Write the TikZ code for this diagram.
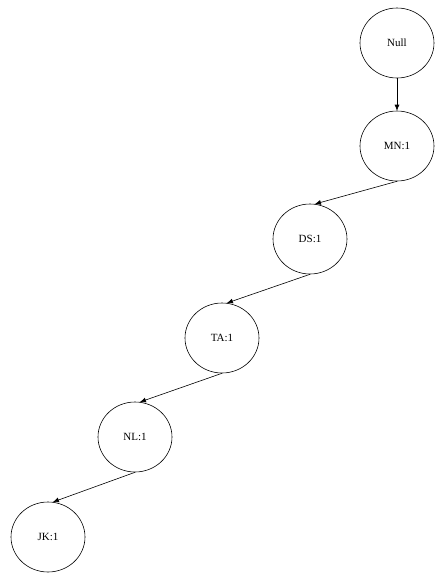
\documentclass[tikz,border=0pt]{standalone}
\usepackage{fontspec}
\setmainfont{Liberation Serif}
\usetikzlibrary{arrows, arrows.meta, shapes.geometric}

\begin{document}
\begin{tikzpicture}[x=1pt,y=-1pt,
  item/.style={ellipse,draw,semithick,minimum width=74pt,minimum height=70pt,inner sep=0pt,font=\fontsize{11}{13}\selectfont},
  link/.style={-{Latex[length=6pt,width=5pt]},semithick}]
\useasboundingbox (0,0) rectangle (444,574); %page size

\node[item] (null) at (397,43) {Null};
\node[item] (mn) at (397,146) {MN:1};
\node[item] (ds) at (310,239) {DS:1};
\node[item] (ta) at (222,338) {TA:1};
\node[item] (nl) at (135,437) {NL:1};
\node[item] (jk) at (48,537) {JK:1};

\draw[link] (null) -- (mn);
\draw[link] (mn.south) -- (ds.82);
\draw[link] (ds.south) -- (ta.82);
\draw[link] (ta.south) -- (nl.82);
\draw[link] (nl.south) -- (jk.82);

\end{tikzpicture}
\end{document}
